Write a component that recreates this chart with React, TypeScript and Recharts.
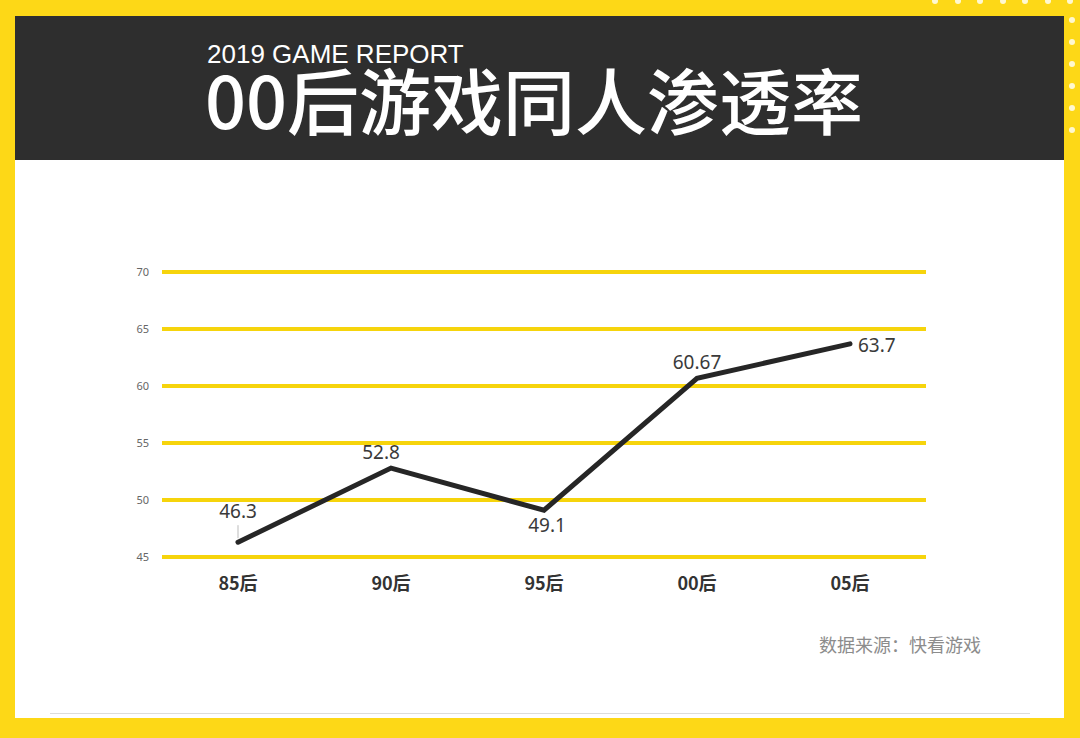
import { LineChart, Line, XAxis, YAxis, CartesianGrid, LabelList } from 'recharts'

const generations = ['85后', '90后', '95后', '00后', '05后']
const penetration = [46.3, 52.8, 49.1, 60.67, 63.7]
const yTicks = [45, 50, 55, 60, 65, 70]

// where each value label sits relative to its point
const labelSide = ['top', 'top', 'bottom', 'top', 'right']

const YELLOW = '#fdd817'
const GRID = '#f6d40c'

const chartData = generations.map((g, i) => ({ gen: g, value: penetration[i] }))

function ValueLabel(props: any) {
  const { x, y, value, index } = props
  const side = labelSide[index]
  const style = { fontSize: 19, fill: '#3a3a3a', fontFamily: '"Noto Sans", sans-serif' }
  if (side === 'right') {
    return (
      <text x={x + 8} y={y + 3} dominantBaseline="middle" textAnchor="start" style={style}>
        {value}
      </text>
    )
  }
  if (side === 'bottom') {
    return (
      <text x={x + 3} y={y + 17} dominantBaseline="middle" textAnchor="middle" style={style}>
        {value}
      </text>
    )
  }
  const dx = index === 1 ? -10 : 0
  return (
    <g>
      {index === 0 && <line x1={x} y1={y - 17} x2={x} y2={y - 4} stroke="#bbb" strokeWidth={1} />}
      <text x={x + dx} y={y - (index === 0 ? 29 : 14)} dominantBaseline="middle" textAnchor="middle" style={style}>
        {value}
      </text>
    </g>
  )
}

export default function App() {
  const topDots = [0, 1, 2, 3, 4, 5, 6]
  const sideDots = [0, 1, 2, 3, 4, 5]
  return (
    <div
      style={{
        position: 'absolute',
        left: 0,
        top: 0,
        width: 1080,
        height: 738,
        background: YELLOW,
        overflow: 'hidden',
        fontFamily: '"Noto Sans CJK SC", "Noto Sans", sans-serif',
      }}
    >
      {topDots.map((i) => (
        <div
          key={`t${i}`}
          style={{ position: 'absolute', left: 932 + i * 22.5, top: -2, width: 6, height: 6, borderRadius: 3, background: '#fff8d0' }}
        />
      ))}
      {sideDots.map((i) => (
        <div
          key={`s${i}`}
          style={{ position: 'absolute', left: 1069, top: 17 + i * 22, width: 6, height: 6, borderRadius: 3, background: '#fff8d0' }}
        />
      ))}

      {/* header */}
      <div style={{ position: 'absolute', left: 15, top: 16, width: 1049, height: 144, background: '#2e2e2e' }}>
        <div
          style={{
            position: 'absolute',
            left: 192,
            top: 25,
            color: '#fff',
            fontSize: 26,
            fontFamily: '"Liberation Sans", Arial, sans-serif',
            lineHeight: '26px',
            whiteSpace: 'nowrap',
          }}
        >
          2019 GAME REPORT
        </div>
        <div
          style={{
            position: 'absolute',
            left: 190,
            top: 54,
            color: '#fff',
            fontSize: 72,
            fontWeight: 500,
            lineHeight: '56px',
            whiteSpace: 'nowrap',
          }}
        >
          00后游戏同人渗透率
        </div>
      </div>

      {/* white panel */}
      <div style={{ position: 'absolute', left: 15, top: 160, width: 1049, height: 558, background: '#fff' }}>
        <div style={{ position: 'absolute', left: 35, top: 553, width: 980, height: 1, background: '#dcdcdc' }} />
        <div
          style={{
            position: 'absolute',
            right: 83,
            top: 471,
            color: '#8c8c8c',
            fontSize: 18,
            lineHeight: '26px',
            whiteSpace: 'nowrap',
          }}
        >
          数据来源：快看游戏
        </div>
      </div>

      <div style={{ position: 'absolute', left: 0, top: 0 }}>
        <LineChart width={1080} height={738} data={chartData} margin={{ top: 272, right: 154, bottom: 147, left: 122 }}>
          <CartesianGrid vertical={false} stroke={GRID} strokeWidth={4} />
          <XAxis
            dataKey="gen"
            axisLine={false}
            tickLine={false}
            padding={{ left: 76, right: 76 }}
            tickMargin={14}
            height={34}
            tick={{ fontSize: 18, fill: '#333', fontWeight: 700, fontFamily: '"Noto Sans CJK SC", sans-serif' }}
          />
          <YAxis
            domain={[45, 70]}
            ticks={yTicks}
            axisLine={false}
            tickLine={false}
            width={40}
            tickMargin={7}
            tick={{ fontSize: 11, fill: '#666', fontFamily: '"Noto Sans", sans-serif' }}
          />
          <Line
            type="linear"
            dataKey="value"
            stroke="#262626"
            strokeWidth={5}
            dot={false}
            activeDot={false}
            strokeLinecap="round"
            isAnimationActive={false}
          >
            <LabelList dataKey="value" content={<ValueLabel />} />
          </Line>
        </LineChart>
      </div>
    </div>
  )
}
